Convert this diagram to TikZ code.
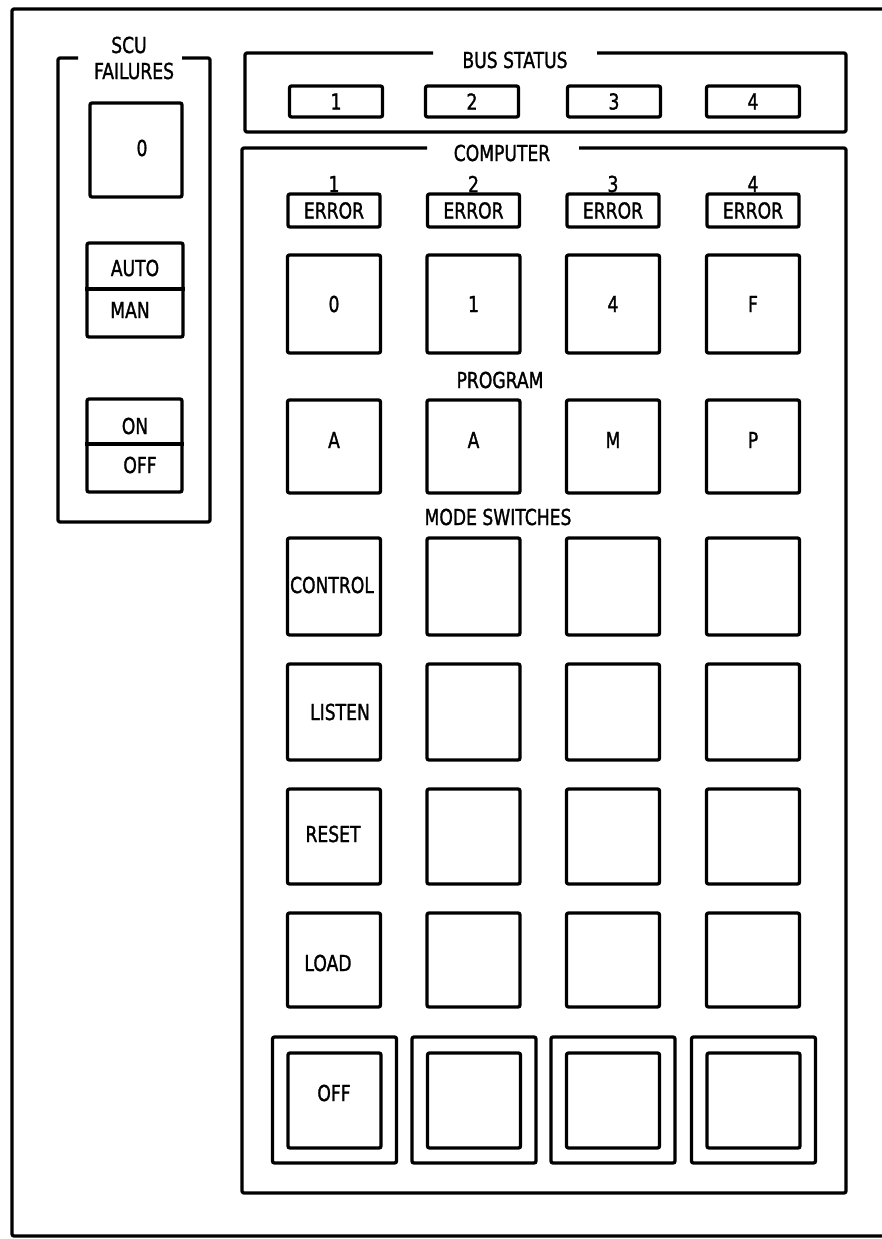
\documentclass[tikz,border=0pt]{standalone}
\usepackage{fontspec}
\setmainfont{DejaVu Sans}[FakeStretch=0.78,FakeBold=1.3]
\newcommand\panelfont{\fontsize{22}{24}\selectfont}
\begin{document}
\begin{tikzpicture}[x=1pt,y=-1pt,
  frameline/.style={line width=3.3pt, line join=round, rounded corners=2pt},
  btn/.style={draw, line width=3.3pt, rounded corners=2pt, inner sep=0pt, font=\panelfont},
  txt/.style={inner sep=0pt, font=\panelfont}]
\useasboundingbox (0,0) rectangle (882,1239);
% outer frame (open on the right)
\coordinate (otr) at (882,9);
\coordinate (otl) at (12,9);
\coordinate (obl) at (12,1236);
\coordinate (obr) at (882,1236);
\draw[frameline] (otr) -- (otl) -- (obl) -- (obr);

% SCU FAILURES panel
\node[txt] (scu) at (129,45) {SCU};
\node[txt] (fail) at (134,71) {FAILURES};
\coordinate (s1) at (78,58); \coordinate (s2) at (58,58); \coordinate (s3) at (58,522);
\coordinate (s4) at (210,522); \coordinate (s5) at (210,58); \coordinate (s6) at (182,58);
\draw[frameline] (s1) -- (s2) -- (s3) -- (s4) -- (s5) -- (s6);
\node[btn, minimum width=92pt, minimum height=94pt] (zero) at (136,150) {};
\node[txt] (zerot) at (142,148) {0};
\node[btn, minimum width=96pt, minimum height=94pt] (am) at (135,290) {};
\draw[line width=3.3pt] (am.west |- 0,289) -- (am.east |- 0,289);
\node[txt] (auto) at (135,268) {AUTO};
\node[txt] (man) at (130,310) {MAN};
\node[btn, minimum width=95pt, minimum height=93pt] (onoff) at (134.5,445.5) {};
\draw[line width=3.3pt] (onoff.west |- 0,444) -- (onoff.east |- 0,444);
\node[txt] (on) at (135,426) {ON};
\node[txt] (off) at (140,465) {OFF};

% BUS STATUS panel
\node[txt] (bust) at (515,60) {BUS STATUS};
\coordinate (b1) at (433,53); \coordinate (b2) at (245,53); \coordinate (b3) at (245,132);
\coordinate (b4) at (846,132); \coordinate (b5) at (846,53); \coordinate (b6) at (597,53);
\draw[frameline] (b1) -- (b2) -- (b3) -- (b4) -- (b5) -- (b6);
\foreach \i/\x in {1/336,2/472,3/614,4/753}
  \node[btn, minimum width=93pt, minimum height=31pt] (bus\i) at (\x,101.5) {\i};

% COMPUTER panel
\node[txt] (compt) at (502,153) {COMPUTER};
\coordinate (c1) at (427,148); \coordinate (c2) at (242,148); \coordinate (c3) at (242,1193);
\coordinate (c4) at (846,1193); \coordinate (c5) at (846,148); \coordinate (c6) at (579,148);
\draw[frameline] (c1) -- (c2) -- (c3) -- (c4) -- (c5) -- (c6);

\foreach \i/\x in {1/334,2/473.5,3/613,4/753}{
  \node[txt] (num\i) at (\x,184) {\i};
  \node[btn, minimum width=92pt, minimum height=33pt] (err\i) at (\x,210.5) {ERROR};
}
\foreach \i/\x/\t in {1/334/0,2/473.5/1,3/613/4,4/753/F}
  \node[btn, minimum width=93pt, minimum height=98pt] (dig\i) at (\x,304) {\t};
\node[txt] (prog) at (500,380) {PROGRAM};
\foreach \i/\x/\t in {1/334/A,2/473.5/A,3/613/M,4/753/P}{
  \node[btn, minimum width=93pt, minimum height=93pt] (prg\i) at (\x,446.5) {};
  \node[txt] (prgt\i) at (\x,440) {\t};
}
\node[txt] (mode) at (498,517) {MODE SWITCHES};
\foreach \r/\y/\h in {1/586.5/97,2/712/96,3/836.5/95,4/960/94}
  \foreach \i/\x in {1/334,2/473.5,3/613,4/753}
    \node[btn, minimum width=93pt, minimum height=\h pt] (ms\r\i) at (\x,\y) {};
\node[txt] (ctl) at (332,585) {CONTROL};
\node[txt] (lst) at (340,712) {LISTEN};
\node[txt] (rst) at (333,834) {RESET};
\node[txt] (lod) at (328,963) {LOAD};
\foreach \i/\x in {1/334.5,2/474,3/613,4/753.5}{
  \node[btn, minimum width=124pt, minimum height=126pt] (offo\i) at (\x,1100) {};
  \node[btn, minimum width=93pt, minimum height=95pt] (offi\i) at (\x,1100.5) {};
}
\node[txt] (offt) at (334,1093) {OFF};
\end{tikzpicture}
\end{document}
